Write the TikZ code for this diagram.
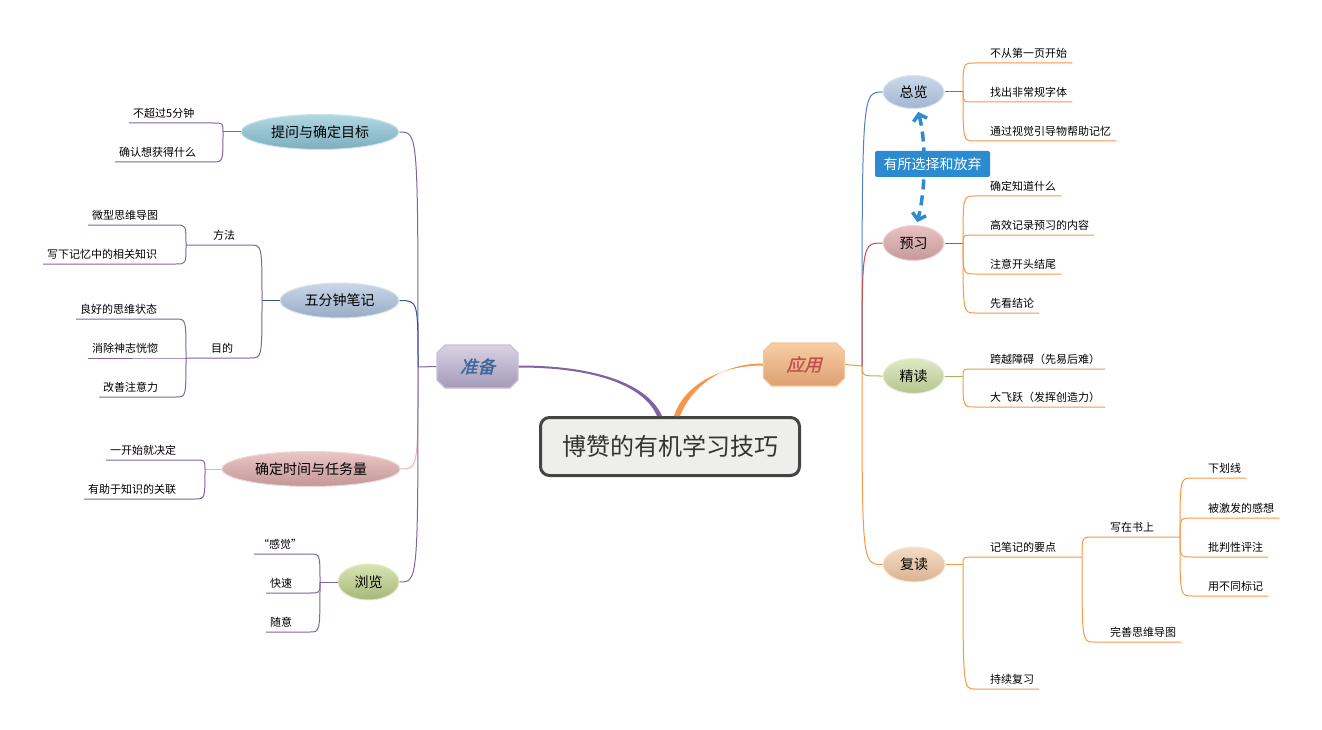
\documentclass[tikz,border=0pt]{standalone}
\usepackage{fontspec}
\newfontfamily\cjk{Noto Sans CJK SC}
\newfontfamily\cjkit[FakeSlant=0.25,FakeBold=1.5]{Noto Sans CJK SC}
\usetikzlibrary{shapes.misc,shapes.geometric,arrows.meta,calc}
\definecolor{cPurple}{HTML}{8064A2}
\definecolor{cNavy}{HTML}{2F5A8E}
\definecolor{cPink}{HTML}{E8B4B4}
\definecolor{cBlue}{HTML}{4F81BD}
\definecolor{cRed}{HTML}{C0504D}
\definecolor{cGreen}{HTML}{9BBB59}
\definecolor{cOrange}{HTML}{F79646}
\definecolor{cCenter}{HTML}{EEEEEC}
\definecolor{cCenterBorder}{HTML}{444444}
\definecolor{cDark}{HTML}{333333}
\definecolor{cZBtext}{HTML}{3D6797}
\definecolor{cArrow}{HTML}{2E8BD0}
\definecolor{cBox}{HTML}{2A8BD0}
% shading colours
\definecolor{zbT}{HTML}{D9D1E4}\definecolor{zbB}{HTML}{A39BB8}\definecolor{zbD}{HTML}{C8C0D8}
\definecolor{yyT}{HTML}{F8CDA5}\definecolor{yyB}{HTML}{DDA070}\definecolor{yyD}{HTML}{F4C89C}
\definecolor{twT}{HTML}{B0D8E2}\definecolor{twB}{HTML}{7DAEBF}\definecolor{twD}{HTML}{CDE6EE}
\definecolor{wfT}{HTML}{C9D7E8}\definecolor{wfB}{HTML}{98ACC6}\definecolor{wfD}{HTML}{D8E2EE}
\definecolor{qdT}{HTML}{EBC6C6}\definecolor{qdB}{HTML}{C49696}\definecolor{qdD}{HTML}{F0D6D6}
\definecolor{llT}{HTML}{D9E4B5}\definecolor{llB}{HTML}{A4B877}\definecolor{llD}{HTML}{E2EAC8}
\definecolor{zlT}{HTML}{CAD7E9}\definecolor{zlB}{HTML}{A3B7D2}\definecolor{zlD}{HTML}{DCE4F0}
\definecolor{yxT}{HTML}{E8C2C2}\definecolor{yxB}{HTML}{C79999}\definecolor{yxD}{HTML}{F0D6D6}
\definecolor{jdT}{HTML}{E0E9C6}\definecolor{jdB}{HTML}{B5C58E}\definecolor{jdD}{HTML}{E8EED4}
\definecolor{fdT}{HTML}{F5DCC6}\definecolor{fdB}{HTML}{D9B290}\definecolor{fdD}{HTML}{F8E6D6}
\newcommand\lleaf[5]{%
  \node[leaf,anchor=south west] (#1) at (#3,#4) {#5};
  \draw[lline] (#2) .. controls (#2 |- #1.south) .. ($(#2 |- #1.south)+(-10,0)$) -- ([xshift=-4pt]#1.south west);}
\newcommand\rleaf[5]{%
  \node[leaf,anchor=south west] (#1) at (#3,#4) {#5};
  \draw[rline] (#2) .. controls (#2 |- #1.south) .. ($(#2 |- #1.south)+(12,0)$) -- ([xshift=5pt]#1.south east);}
\begin{document}
\begin{tikzpicture}[x=1pt,y=-1pt,
  ell/.style={ellipse, inner sep=0pt, font=\cjk\fontsize{14}{16}\selectfont, line width=1pt},
  leaf/.style={font=\cjk\fontsize{11}{13}\selectfont, inner xsep=0pt, inner ysep=4pt},
  lline/.style={draw=cPurple, line width=1pt},
  rline/.style={draw=cOrange, line width=1pt},
  hub/.style={chamfered rectangle, chamfered rectangle xsep=4pt, chamfered rectangle ysep=4pt,
    minimum width=81, minimum height=43, inner sep=0pt, line width=1.2pt,
    font=\cjkit\fontsize{17.5}{20}\selectfont}]
\useasboundingbox (0,0) rectangle (1322,730);

% ---- center and hubs
\node[draw=cCenterBorder, line width=3pt, rounded corners=9pt, fill=cCenter,
  minimum width=259, minimum height=58, font=\cjk\fontsize{24}{28}\selectfont, text=cDark]
  (ct) at (670,446.5) {博赞的有机学习技巧};
\node[hub, top color=zbT, bottom color=zbB, draw=zbD, text=cZBtext]
  (zb) at (477.5,366.5) {准备};
\node[hub, top color=yyT, bottom color=yyB, draw=yyD, text=cRed]
  (yy) at (804,364.5) {应用};
\fill[cPurple] ([yshift=-1pt]zb.east) .. controls +(82,0) and +(-12,-28) .. ([xshift=-13pt]ct.north)
  -- ([xshift=-8pt]ct.north) .. controls +(-13,-30) and +(82,0) .. ([yshift=1pt]zb.east) -- cycle;
\fill[cOrange] ([yshift=-1pt]yy.west) .. controls +(-43,0) and +(10,-31) .. ([xshift=4pt]ct.north)
  -- ([xshift=10pt]ct.north) .. controls +(12,-30) and +(-41,0) .. ([yshift=1pt]yy.west) -- cycle;

% ---- left main topics
\node[ell, minimum width=158, minimum height=35, top color=twT, bottom color=twB, draw=twD] (tw) at (320,132) {提问与确定目标};
\node[ell, minimum width=119, minimum height=35, top color=wfT, bottom color=wfB, draw=wfD] (wf) at (339.5,300.5) {五分钟笔记};
\node[ell, minimum width=178, minimum height=35, top color=qdT, bottom color=qdB, draw=qdD] (qd) at (311,469) {确定时间与任务量};
\node[ell, minimum width=61, minimum height=36, top color=llT, bottom color=llB, draw=llD] (ll) at (368.5,582) {浏览};

\coordinate (SL) at (418,367);
\draw[cPurple, line width=1pt] (zb.west) -- (SL);
\draw[cPurple, line width=1pt] (SL) .. controls (SL |- tw.east) .. (tw.east);
\draw[cNavy, line width=1pt] (SL) .. controls (SL |- wf.east) .. (wf.east);
\draw[cPink, line width=1pt] (SL) .. controls (SL |- qd.east) .. (qd.east);
\draw[cPurple, line width=1pt] (SL) .. controls (SL |- ll.east) .. (ll.east);

% 提问与确定目标
\coordinate (jtw) at (223,132);
\draw[lline] (tw.west) -- (jtw);
\lleaf{t1}{jtw}{133}{123}{不超过5分钟}
\lleaf{t2}{jtw}{119}{162}{确认想获得什么}

% 五分钟笔记
\coordinate (j5) at (262,300.5);
\coordinate (jff) at (186,245);
\coordinate (jmd) at (186,358);
\draw[cNavy, line width=1pt] (wf.west) -- (j5);
\node[leaf,anchor=south west] (ff) at (213,245) {方法};
\node[leaf,anchor=south west] (md) at (211,358) {目的};
\draw[lline] (j5) .. controls (j5 |- jff) .. ($(j5 |- jff)+(-12,0)$) -- (jff);
\draw[lline] (j5) .. controls (j5 |- jmd) .. ($(j5 |- jmd)+(-12,0)$) -- (jmd);
\lleaf{f1}{jff}{92}{225}{微型思维导图}
\lleaf{f2}{jff}{47}{264}{写下记忆中的相关知识}
\lleaf{m1}{jmd}{80}{319}{良好的思维状态}
\lleaf{m2}{jmd}{92}{358}{消除神志恍惚}
\lleaf{m3}{jmd}{103}{397}{改善注意力}

% 确定时间与任务量
\coordinate (jqd) at (205,469);
\draw[cPink, line width=1pt] (qd.west) -- (jqd);
\lleaf{q1}{jqd}{110}{460}{一开始就决定}
\lleaf{q2}{jqd}{88}{499}{有助于知识的关联}

% 浏览
\coordinate (jll) at (320,582);
\draw[lline] (ll.west) -- (jll);
\lleaf{l1}{jll}{258}{554}{“感觉”}
\lleaf{l2}{jll}{270}{593}{快速}
\lleaf{l3}{jll}{270}{632}{随意}

% ---- right main topics
\node[ell, minimum width=61, minimum height=33, top color=zlT, bottom color=zlB, draw=zlD] (zl) at (913.5,92) {总览};
\node[ell, minimum width=61, minimum height=35, top color=yxT, bottom color=yxB, draw=yxD] (yx) at (913.5,243) {预习};
\node[ell, minimum width=61, minimum height=35, top color=jdT, bottom color=jdB, draw=jdD] (jd) at (913.5,376) {精读};
\node[ell, minimum width=62, minimum height=35, top color=fdT, bottom color=fdB, draw=fdD] (fd) at (914,564.5) {复读};

\coordinate (SR) at (862,366);
\draw[cOrange, line width=1pt] (yy.east) -- (SR);
\draw[cBlue, line width=1pt] (SR) .. controls (SR |- zl.west) .. (zl.west);
\draw[cRed, line width=1pt] (SR) .. controls (SR |- yx.west) .. (yx.west);
\draw[cGreen, line width=1pt] (SR) .. controls (SR |- jd.west) .. (jd.west);
\draw[cOrange, line width=1pt] (SR) .. controls (SR |- fd.west) .. (fd.west);

% 总览
\coordinate (jzl) at (963,92);
\draw[cBlue, line width=1pt] (zl.east) -- (jzl);
\rleaf{z1}{jzl}{990}{63}{不从第一页开始}
\rleaf{z2}{jzl}{990}{102}{找出非常规字体}
\rleaf{z3}{jzl}{990}{141}{通过视觉引导物帮助记忆}

% 预习
\coordinate (jyx) at (963,243);
\draw[cRed, line width=1pt] (yx.east) -- (jyx);
\rleaf{y1}{jyx}{990}{196}{确定知道什么}
\rleaf{y2}{jyx}{990}{235}{高效记录预习的内容}
\rleaf{y3}{jyx}{990}{274}{注意开头结尾}
\rleaf{y4}{jyx}{990}{313}{先看结论}

% 精读
\coordinate (jjd) at (963,376);
\draw[cGreen, line width=1pt] (jd.east) -- (jjd);
\rleaf{j1}{jjd}{990}{369}{跨越障碍（先易后难）}
\rleaf{j2}{jjd}{990}{407}{大飞跃（发挥创造力）}

% 复读
\coordinate (jfd) at (963,564.5);
\draw[rline] (fd.east) -- (jfd);
\node[leaf,anchor=south west] (bj) at (990,557) {记笔记的要点};
\coordinate (jbj) at (1082,557);
\draw[rline] (jfd) .. controls (jfd |- jbj) .. ($(jfd |- jbj)+(12,0)$) -- (jbj);
\node[leaf,anchor=south west] (xs) at (1110,537) {写在书上};
\coordinate (jxs) at (1180,537);
\draw[rline] (jbj) .. controls (jbj |- jxs) .. ($(jbj |- jxs)+(12,0)$) -- (jxs);
\rleaf{x1}{jxs}{1208}{478}{下划线}
\rleaf{x2}{jxs}{1208}{518}{被激发的感想}
\rleaf{x3}{jxs}{1208}{557}{批判性评注}
\rleaf{x4}{jxs}{1208}{596}{用不同标记}
\rleaf{ws}{jbj}{1110}{642}{完善思维导图}
\rleaf{cx}{jfd}{990}{689}{持续复习}

% ---- relation arrow and label
\draw[cArrow, line width=3.5pt, dash pattern=on 10pt off 6pt,
  {Straight Barb[length=6pt,width=14pt]}-{Straight Barb[length=6pt,width=14pt]},
  shorten <=3pt, shorten >=3pt]
  ([xshift=4pt]zl.south) .. controls +(9,35) and +(9,-35) .. ([xshift=3pt]yx.north);
\node[fill=cBox, rounded corners=2pt, minimum width=115, minimum height=26, inner sep=0pt,
  text=white, font=\cjk\fontsize{14}{16}\selectfont] (bx) at (932.5,164) {有所选择和放弃};
\end{tikzpicture}
\end{document}
